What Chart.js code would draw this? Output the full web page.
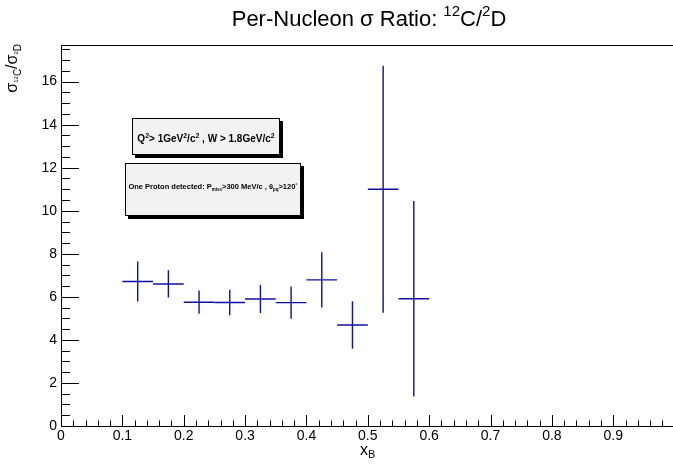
<!DOCTYPE html>
<html>
<head>
<meta charset="utf-8">
<script src="https://cdn.jsdelivr.net/npm/chart.js@4.4.1/dist/chart.umd.min.js"></script>
<style>
html, body { margin: 0; padding: 0; background: #fff; }
#wrap { width: 673px; height: 464px; position: relative; }
</style>
</head>
<body>
<div id="wrap"><canvas id="ratioChart"></canvas></div>
<script>
// per-nucleon cross section ratio 12C / 2D vs x_B
var xCenter = [0.125, 0.175, 0.225, 0.275, 0.325, 0.375, 0.425, 0.475, 0.525, 0.575];
var xHalfWidth = [0.025, 0.025, 0.025, 0.025, 0.025, 0.025, 0.025, 0.025, 0.025, 0.025];
var ratio = [6.71, 6.60, 5.75, 5.74, 5.90, 5.73, 6.79, 4.69, 11.00, 5.91];
var ratioErr = [0.93, 0.63, 0.54, 0.59, 0.65, 0.75, 1.28, 1.10, 5.74, 4.54];
var xTickValues = [0, 0.1, 0.2, 0.3, 0.4, 0.5, 0.6, 0.7, 0.8, 0.9];
var yTickValues = [0, 2, 4, 6, 8, 10, 12, 14, 16];

var FONT = "'Liberation Sans', Arial, Helvetica, sans-serif";
Chart.defaults.font.family = FONT;
Chart.defaults.color = '#000';

var points = xCenter.map(function (x, i) { return { x: x, y: ratio[i] }; });

function setFont(ctx, p) {
  ctx.font = (p.b ? 'bold ' : '') + p.s + 'px ' + FONT;
}
function richWidth(ctx, parts) {
  var w = 0;
  parts.forEach(function (p) { setFont(ctx, p); w += ctx.measureText(p.t).width; });
  return w;
}
function drawRich(ctx, parts, x, y) {
  parts.forEach(function (p) {
    setFont(ctx, p);
    ctx.fillText(p.t, x, y - (p.dy || 0));
    x += ctx.measureText(p.t).width;
  });
}

var errorBars = {
  id: 'errorBars',
  afterDatasetsDraw: function (chart) {
    var ctx = chart.ctx, xs = chart.scales.x, ys = chart.scales.y;
    ctx.save();
    ctx.strokeStyle = 'rgb(15,15,165)';
    ctx.lineWidth = 1.4;
    for (var i = 0; i < xCenter.length; i++) {
      var px = xs.getPixelForValue(xCenter[i]);
      var py = ys.getPixelForValue(ratio[i]);
      ctx.beginPath();
      ctx.moveTo(xs.getPixelForValue(xCenter[i] - xHalfWidth[i]), py);
      ctx.lineTo(xs.getPixelForValue(xCenter[i] + xHalfWidth[i]), py);
      ctx.moveTo(px, ys.getPixelForValue(ratio[i] + ratioErr[i]));
      ctx.lineTo(px, ys.getPixelForValue(ratio[i] - ratioErr[i]));
      ctx.stroke();
    }
    ctx.restore();
  }
};

var rootFrame = {
  id: 'rootFrame',
  afterDraw: function (chart) {
    var ctx = chart.ctx, xs = chart.scales.x, ys = chart.scales.y, a = chart.chartArea;
    ctx.save();
    ctx.strokeStyle = '#000';
    ctx.lineWidth = 1;
    ctx.beginPath();
    // top frame line
    ctx.moveTo(a.left, a.top + 0.5);
    ctx.lineTo(a.right, a.top + 0.5);
    // inward x ticks every 0.02
    for (var i = 0; i * 0.02 <= xs.max; i++) {
      var px = Math.round(xs.getPixelForValue(i * 0.02)) + 0.5;
      var len = (i % 5 === 0) ? 11 : 5.5;
      ctx.moveTo(px, a.bottom);
      ctx.lineTo(px, a.bottom - len);
    }
    // inward y ticks every 0.5
    for (var k = 0; k * 0.5 <= ys.max; k++) {
      var py = Math.round(ys.getPixelForValue(k * 0.5)) + 0.5;
      var l2 = (k % 4 === 0) ? 18 : 9;
      ctx.moveTo(a.left, py);
      ctx.lineTo(a.left + l2, py);
    }
    ctx.stroke();

    ctx.fillStyle = '#000';
    ctx.textBaseline = 'alphabetic';
    ctx.textAlign = 'left';

    // title
    var title = [
      { t: 'Per-Nucleon \u03c3 Ratio: ', s: 22 },
      { t: '12', s: 15, dy: 10 },
      { t: 'C/', s: 22 },
      { t: '2', s: 15, dy: 10 },
      { t: 'D', s: 22 }
    ];
    var tw = richWidth(ctx, title);
    drawRich(ctx, title, 369 - tw / 2, 26);

    // x axis title
    drawRich(ctx, [{ t: 'x', s: 16 }, { t: 'B', s: 11, dy: -3 }], 360, 455);

    // y axis title (rotated)
    var yt = [
      { t: '\u03c3', s: 16 },
      { t: '12', s: 6, dy: -1 },
      { t: 'C', s: 10, dy: -4 },
      { t: '/\u03c3', s: 16 },
      { t: '2', s: 6, dy: -1 },
      { t: 'D', s: 10, dy: -4 }
    ];
    var yw = richWidth(ctx, yt);
    ctx.save();
    ctx.translate(17, 44);
    ctx.rotate(-Math.PI / 2);
    drawRich(ctx, yt, -yw, 0);
    ctx.restore();

    // text boxes
    function pave(x, y, w, h, parts, baseline) {
      ctx.fillStyle = '#000';
      ctx.fillRect(x + 3, y + 3, w, h);
      ctx.fillStyle = '#f2f2f2';
      ctx.fillRect(x, y, w, h);
      ctx.strokeStyle = '#000';
      ctx.lineWidth = 1;
      ctx.strokeRect(x + 0.5, y + 0.5, w - 1, h - 1);
      ctx.fillStyle = '#000';
      var pw = richWidth(ctx, parts);
      drawRich(ctx, parts, x + w / 2 - pw / 2, baseline);
    }
    pave(132, 118, 148, 37, [
      { t: 'Q', s: 10, b: true },
      { t: '2', s: 7, b: true, dy: 4 },
      { t: '> 1GeV', s: 10, b: true },
      { t: '2', s: 7, b: true, dy: 4 },
      { t: '/c', s: 10, b: true },
      { t: '2', s: 7, b: true, dy: 4 },
      { t: ' , W > 1.8GeV/c', s: 10, b: true },
      { t: '2', s: 7, b: true, dy: 4 }
    ], 142);
    pave(125, 163, 176, 53, [
      { t: 'One Proton detected: P', s: 7.5, b: true },
      { t: 'miss', s: 4.5, b: true, dy: -1.5 },
      { t: '>300 MeV/c , \u03b8', s: 7.5, b: true },
      { t: 'pq', s: 4.5, b: true, dy: -1.5 },
      { t: '>120', s: 7.5, b: true },
      { t: '\u00b0', s: 5.5, b: true, dy: 2 }
    ], 189);
    ctx.restore();
  }
};

new Chart(document.getElementById('ratioChart'), {
  type: 'scatter',
  data: {
    datasets: [{
      label: 'ratio',
      data: points,
      pointRadius: 0,
      showLine: false
    }]
  },
  options: {
    animation: false,
    responsive: true,
    maintainAspectRatio: false,
    layout: { padding: { top: 45, right: 0, left: 0, bottom: 0 } },
    plugins: {
      legend: { display: false },
      title: { display: false },
      tooltip: { enabled: false }
    },
    scales: {
      x: {
        type: 'linear',
        position: 'bottom',
        min: 0,
        max: 0.9974,
        afterBuildTicks: function (s) { s.ticks = xTickValues.map(function (v) { return { value: v }; }); },
        afterFit: function (s) { s.height = 38; },
        ticks: {
          includeBounds: false,
          autoSkip: false,
          maxRotation: 0,
          padding: 2,
          font: { size: 14 },
          color: '#000',
          callback: function (v) { return v === 0 ? '0' : Number(v).toFixed(1); }
        },
        grid: { display: false, drawTicks: false },
        border: { display: true, color: '#000', width: 1 }
      },
      y: {
        type: 'linear',
        position: 'left',
        min: 0,
        max: 17.7,
        afterBuildTicks: function (s) { s.ticks = yTickValues.map(function (v) { return { value: v }; }); },
        afterFit: function (s) { s.width = 61; },
        ticks: {
          includeBounds: false,
          autoSkip: false,
          padding: 4,
          font: { size: 14 },
          color: '#000'
        },
        grid: { display: false, drawTicks: false },
        border: { display: true, color: '#000', width: 1 }
      }
    }
  },
  plugins: [errorBars, rootFrame]
});
</script>
</body>
</html>
